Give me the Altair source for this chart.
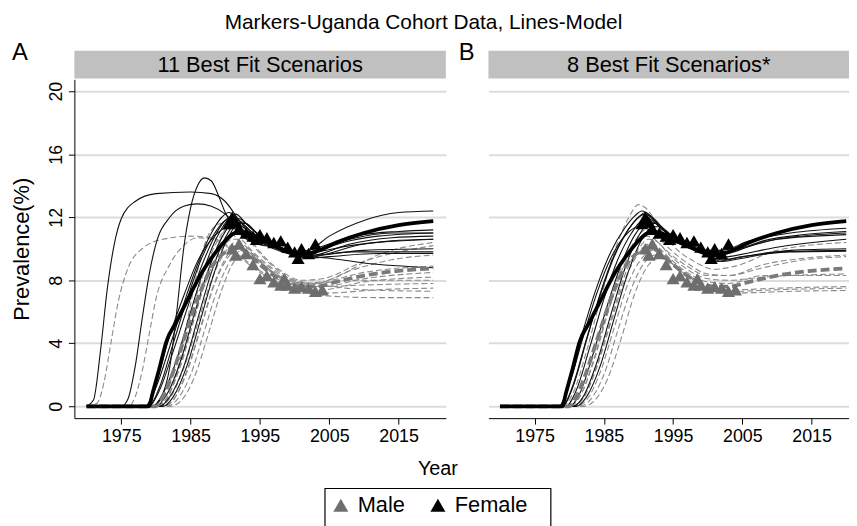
import altair as alt
import pandas as pd

FONT = "Liberation Sans, Arial, sans-serif"

CHART_TITLE = "Markers-Uganda Cohort Data, Lines-Model"
PANEL_A_TITLE = "11 Best Fit Scenarios"
PANEL_B_TITLE = "8 Best Fit Scenarios*"
YEAR_TICKS = [1975, 1985, 1995, 2005, 2015]
PREV_TICKS = [0, 4, 8, 12, 16, 20]
SEXES = ["Male", "Female"]

# ---- Uganda cohort data (markers) ----
FEMALE_YEARS = [1990.5, 1991, 1991.5, 1992, 1993, 1994, 1994.5, 1995, 1996, 1997, 1998, 1999, 2000, 2000.5, 2001, 2002, 2003]
FEMALE_PREV = [11.6, 12.0, 11.7, 11.3, 11.0, 10.8, 10.6, 10.9, 10.7, 10.4, 10.5, 10.1, 9.8, 9.4, 10.0, 9.7, 10.3]
MALE_YEARS = [1991, 1991.5, 1992, 1993, 1994, 1995, 1996, 1997, 1998, 1998.5, 1999, 2000, 2001, 2002, 2003, 2004]
MALE_PREV = [10.0, 9.6, 10.3, 9.7, 9.0, 8.1, 8.3, 7.9, 7.7, 8.1, 7.7, 7.5, 7.6, 7.5, 7.3, 7.4]

# ---- model lines, panel A (11 scenarios) ----
A_F1 = [(1970, 0), (1971, 0.4), (1972, 3.5), (1973, 7.5), (1974, 10.3), (1975, 11.9), (1977, 13.0), (1980, 13.5), (1985, 13.6), (1988, 13.5), (1990, 13.0), (1992, 11.8), (1994, 10.8), (1997, 10.0), (2000, 9.6), (2005, 9.4), (2010, 9.1), (2020, 8.8)]
A_F2 = [(1970, 0), (1975, 0), (1976, 0.5), (1977, 2.5), (1978, 5.5), (1979, 8.3), (1980, 10.3), (1982, 12.0), (1984, 12.7), (1986, 12.85), (1988, 12.7), (1990, 12.2), (1992, 11.3), (1994, 10.6), (1997, 10.1), (2000, 9.7), (2003, 9.8), (2008, 10.2), (2014, 10.5), (2020, 10.6)]
A_F3 = [(1970, 0), (1979.5, 0), (1981, 0.8), (1982, 2.5), (1983, 6.0), (1984, 10.0), (1985, 12.6), (1986, 14.0), (1987, 14.5), (1988, 14.3), (1989, 13.4), (1990, 12.3), (1992, 11.0), (1994, 10.4), (1997, 10.1), (2000, 9.8), (2002, 9.9), (2005, 10.8), (2010, 11.8), (2015, 12.3), (2020, 12.4)]
A_F4 = [(1970, 0), (1978.5, 0), (1980, 1.2), (1982, 3.8), (1984, 6.5), (1986, 9.0), (1988, 11.0), (1989.5, 12.0), (1990.5, 12.3), (1992, 11.8), (1994, 11.0), (1997, 10.3), (2000, 9.8), (2002, 9.9), (2005, 10.3), (2010, 10.9), (2015, 11.1), (2020, 11.2)]
A_F5 = [(1970, 0), (1979, 0), (1980.5, 1.0), (1982.5, 3.5), (1984.5, 6.2), (1986.5, 8.8), (1988.5, 10.8), (1990, 11.8), (1991, 12.1), (1992.5, 11.6), (1995, 10.6), (1998, 10.0), (2001, 9.6), (2003, 9.8), (2007, 10.4), (2012, 10.8), (2020, 11.0)]
A_F6 = [(1970, 0), (1979.5, 0), (1981, 0.8), (1983, 3.0), (1985, 6.0), (1987, 8.8), (1989, 10.9), (1990.5, 11.9), (1991.5, 12.2), (1993, 11.6), (1995, 10.8), (1998, 10.1), (2001, 9.5), (2003, 9.6), (2008, 10.3), (2014, 10.7), (2020, 10.8)]
A_F7 = [(1970, 0), (1980, 0), (1981.5, 0.7), (1983.5, 2.8), (1985.5, 5.8), (1987.5, 8.6), (1989.5, 10.7), (1991, 11.7), (1992, 11.9), (1993.5, 11.4), (1996, 10.5), (1999, 9.9), (2001.5, 9.4), (2004, 9.6), (2010, 10.3), (2020, 10.6)]
A_F8 = [(1970, 0), (1980.5, 0), (1982, 0.6), (1984, 2.5), (1986, 5.5), (1988, 8.5), (1990, 10.7), (1991.5, 11.6), (1992.5, 11.7), (1994, 11.2), (1996, 10.5), (1999, 9.9), (2001.5, 9.5), (2004, 9.6), (2010, 9.9), (2020, 10.0)]
A_F9 = [(1970, 0), (1978.5, 0), (1980, 1.5), (1982, 4.5), (1984, 7.0), (1986, 9.2), (1988, 10.6), (1990, 11.3), (1991.5, 11.4), (1993, 11.0), (1995, 10.5), (1998, 10.0), (2001, 9.6), (2003, 9.6), (2008, 9.8), (2020, 9.8)]
A_F10 = [(1970, 0), (1981, 0), (1982.5, 0.6), (1984.5, 2.6), (1986.5, 5.6), (1988.5, 8.6), (1990.5, 10.8), (1992, 11.6), (1993, 11.6), (1994.5, 11.0), (1997, 10.2), (2000, 9.7), (2002, 9.4), (2005, 9.5), (2012, 9.7), (2020, 9.7)]
A_F11 = [(1970, 0), (1979, 0), (1980.5, 1.2), (1982.5, 4.0), (1984.5, 6.8), (1986.5, 9.3), (1988.5, 11.0), (1990, 11.8), (1991, 11.9), (1992.5, 11.4), (1995, 10.6), (1998, 10.1), (2001, 9.7), (2003, 9.9), (2008, 10.6), (2014, 11.0), (2020, 11.0)]

A_M1 = [(1970, 0), (1971.5, 0.2), (1972.5, 1.5), (1973.5, 4.0), (1974.5, 6.5), (1976, 8.8), (1978, 10.0), (1981, 10.6), (1985, 10.8), (1988, 10.7), (1990, 10.3), (1992, 9.6), (1995, 8.6), (1998, 8.0), (2001, 7.7), (2005, 7.6), (2010, 7.4), (2020, 7.3)]
A_M2 = [(1970, 0), (1976, 0), (1977, 0.6), (1978, 2.2), (1979, 4.5), (1980, 6.8), (1982, 9.0), (1984, 10.2), (1986, 10.7), (1988, 10.6), (1990, 10.2), (1992, 9.5), (1995, 8.5), (1998, 7.8), (2001, 7.3), (2005, 7.0), (2012, 6.9), (2020, 6.9)]
A_M3 = [(1970, 0), (1980.5, 0), (1982, 0.8), (1983.5, 3.0), (1985, 6.5), (1986.5, 9.5), (1988, 11.2), (1989.5, 11.6), (1991, 11.0), (1993, 9.8), (1996, 8.7), (1999, 8.0), (2002, 7.7), (2006, 8.2), (2012, 9.6), (2020, 10.4)]
A_M4 = [(1970, 0), (1980, 0), (1981.5, 0.5), (1983.5, 2.5), (1985.5, 5.5), (1987.5, 8.5), (1989.5, 10.8), (1990.5, 11.6), (1991.5, 11.7), (1993, 11.0), (1995, 9.8), (1998, 8.6), (2001, 8.0), (2004, 8.1), (2010, 9.2), (2020, 10.2)]
A_M5 = [(1970, 0), (1980.5, 0), (1982, 0.5), (1984, 2.4), (1986, 5.2), (1988, 8.0), (1990, 9.8), (1991.5, 10.4), (1992.5, 10.3), (1994.5, 9.4), (1997, 8.5), (2000, 7.9), (2003, 7.8), (2008, 8.6), (2014, 9.3), (2020, 9.6)]
A_M6 = [(1970, 0), (1981, 0), (1982.5, 0.4), (1984.5, 2.2), (1986.5, 5.0), (1988.5, 7.8), (1990.5, 9.5), (1992, 10.0), (1993, 9.9), (1995, 9.1), (1998, 8.2), (2001, 7.6), (2004, 7.6), (2010, 8.1), (2020, 8.5)]
A_M7 = [(1970, 0), (1981.5, 0), (1983, 0.4), (1985, 2.0), (1987, 4.8), (1989, 7.6), (1991, 9.4), (1992.5, 9.9), (1993.5, 9.8), (1995.5, 9.0), (1998, 8.1), (2001, 7.5), (2004, 7.4), (2010, 7.9), (2020, 8.2)]
A_M8 = [(1970, 0), (1982, 0), (1983.5, 0.3), (1985.5, 1.8), (1987.5, 4.5), (1989.5, 7.4), (1991.5, 9.3), (1993, 9.6), (1994, 9.5), (1996, 8.8), (1999, 7.9), (2002, 7.3), (2005, 7.2), (2012, 7.4), (2020, 7.5)]
A_M9 = [(1970, 0), (1979.5, 0), (1981, 0.6), (1983, 2.8), (1985, 5.8), (1987, 8.6), (1989, 10.6), (1990.5, 11.4), (1991.5, 11.5), (1993, 10.8), (1995, 9.7), (1998, 8.5), (2001, 7.8), (2004, 7.9), (2010, 8.5), (2020, 8.9)]
A_M10 = [(1970, 0), (1980, 0), (1981.5, 0.5), (1983.5, 2.6), (1985.5, 5.6), (1987.5, 8.3), (1989.5, 10.0), (1991, 10.6), (1992, 10.6), (1994, 9.8), (1997, 8.7), (2000, 8.0), (2003, 7.8), (2008, 8.0), (2020, 8.0)]
A_M11 = [(1970, 0), (1981, 0), (1982.5, 0.4), (1984.5, 2.3), (1986.5, 5.1), (1988.5, 7.9), (1990.5, 9.7), (1992, 10.2), (1993, 10.1), (1995, 9.3), (1998, 8.3), (2001, 7.7), (2004, 7.6), (2010, 7.7), (2020, 7.8)]

# ---- model lines, panel B (8 scenarios) ----
B_F1 = [(1970, 0), (1978.5, 0), (1980, 1.5), (1982, 4.8), (1984, 7.6), (1986, 9.8), (1988, 11.3), (1989.5, 12.1), (1990.5, 12.4), (1992, 12.0), (1994, 11.1), (1997, 10.4), (2000, 9.9), (2002, 9.9), (2006, 10.5), (2012, 11.0), (2020, 11.3)]
B_F2 = [(1970, 0), (1979, 0), (1980.5, 1.2), (1982.5, 4.2), (1984.5, 7.2), (1986.5, 9.6), (1988.5, 11.2), (1990, 12.0), (1991, 12.2), (1992.5, 11.7), (1995, 10.8), (1998, 10.1), (2001, 9.6), (2003, 9.7), (2008, 10.5), (2014, 10.9), (2020, 11.1)]
B_F3 = [(1970, 0), (1979.5, 0), (1981, 1.0), (1983, 3.8), (1985, 6.8), (1987, 9.3), (1989, 11.0), (1990.5, 11.8), (1991.5, 11.9), (1993, 11.4), (1995.5, 10.5), (1998, 10.0), (2001, 9.4), (2003, 9.5), (2010, 10.1), (2020, 10.6)]
B_F4 = [(1970, 0), (1980, 0), (1981.5, 0.8), (1983.5, 3.4), (1985.5, 6.4), (1987.5, 9.0), (1989.5, 10.9), (1991, 11.6), (1992, 11.7), (1993.5, 11.2), (1996, 10.4), (1999, 9.8), (2001.5, 9.2), (2004, 9.4), (2010, 9.8), (2020, 9.9)]
B_F5 = [(1970, 0), (1980.5, 0), (1982, 0.6), (1984, 2.8), (1986, 5.8), (1988, 8.7), (1990, 10.8), (1991.5, 11.6), (1992.5, 11.6), (1994, 11.0), (1996.5, 10.2), (1999.5, 9.7), (2002, 9.3), (2005, 9.5), (2012, 9.8), (2020, 9.85)]
B_F6 = [(1970, 0), (1978.5, 0), (1980, 1.4), (1982, 4.4), (1984, 7.2), (1986, 9.4), (1988, 10.8), (1990, 11.4), (1991.5, 11.4), (1993, 11.0), (1995.5, 10.4), (1998.5, 9.9), (2001, 9.6), (2004, 9.9), (2010, 10.6), (2020, 10.9)]
B_F7 = [(1970, 0), (1979, 0), (1980.5, 1.3), (1982.5, 4.3), (1984.5, 7.1), (1986.5, 9.5), (1988.5, 11.2), (1990, 12.0), (1991, 12.3), (1992.5, 11.7), (1995, 10.7), (1998, 10.1), (2001, 9.5), (2003, 9.8), (2010, 10.6), (2020, 11.0)]
B_F8 = [(1970, 0), (1981, 0), (1982.5, 0.6), (1984.5, 2.6), (1986.5, 5.6), (1988.5, 8.5), (1990.5, 10.6), (1992, 11.4), (1993, 11.4), (1994.5, 10.9), (1997, 10.2), (2000, 9.6), (2002, 9.2), (2005, 9.4), (2012, 9.9), (2020, 10.0)]

B_M1 = [(1970, 0), (1979, 0), (1980.5, 0.8), (1982.5, 3.5), (1984.5, 6.8), (1986.5, 9.8), (1988.5, 11.9), (1990, 12.8), (1991, 12.6), (1993, 11.4), (1995, 10.2), (1998, 9.2), (2001, 8.7), (2004, 8.9), (2010, 9.9), (2020, 10.4)]
B_M2 = [(1970, 0), (1980, 0), (1981.5, 0.6), (1983.5, 2.8), (1985.5, 5.8), (1987.5, 8.5), (1989.5, 10.2), (1991, 10.8), (1992, 10.7), (1994, 9.9), (1997, 8.9), (2000, 8.3), (2003, 8.3), (2008, 9.0), (2014, 9.4), (2020, 9.6)]
B_M3 = [(1970, 0), (1980.5, 0), (1982, 0.5), (1984, 2.5), (1986, 5.3), (1988, 8.0), (1990, 9.7), (1991.5, 10.3), (1992.5, 10.2), (1994.5, 9.4), (1997, 8.5), (2000, 7.9), (2003, 7.8), (2008, 8.3), (2020, 8.3)]
B_M4 = [(1970, 0), (1981, 0), (1982.5, 0.4), (1984.5, 2.2), (1986.5, 5.0), (1988.5, 7.8), (1990.5, 9.4), (1992, 9.9), (1993, 9.8), (1995, 9.0), (1998, 8.1), (2001, 7.5), (2004, 7.4), (2010, 7.5), (2020, 7.6)]
B_M5 = [(1970, 0), (1981.5, 0), (1983, 0.4), (1985, 2.0), (1987, 4.8), (1989, 7.5), (1991, 9.2), (1992.5, 9.6), (1993.5, 9.5), (1995.5, 8.8), (1998, 8.0), (2001, 7.4), (2004, 7.3), (2010, 7.4), (2020, 7.5)]
B_M6 = [(1970, 0), (1980, 0), (1981.5, 0.6), (1983.5, 2.9), (1985.5, 6.0), (1987.5, 8.8), (1989.5, 10.5), (1991, 11.2), (1992, 11.1), (1994, 10.2), (1997, 9.1), (2000, 8.4), (2003, 8.3), (2008, 8.8), (2014, 9.3), (2020, 9.5)]
B_M7 = [(1970, 0), (1982, 0), (1983.5, 0.3), (1985.5, 1.7), (1987.5, 4.3), (1989.5, 7.2), (1991.5, 9.0), (1993, 9.4), (1994, 9.3), (1996, 8.7), (1999, 7.8), (2002, 7.3), (2005, 7.2), (2012, 7.3), (2020, 7.35)]
B_M8 = [(1970, 0), (1980.5, 0), (1982, 0.5), (1984, 2.6), (1986, 5.5), (1988, 8.3), (1990, 10.0), (1991.5, 10.6), (1992.5, 10.5), (1994.5, 9.6), (1997, 8.7), (2000, 8.1), (2003, 8.0), (2008, 8.2), (2020, 8.4)]

# ---- thick lines (shown in both panels) ----
FEMALE_THICK = [(1970, 0), (1979, 0), (1979.5, 0.8), (1980.5, 2.4), (1981.5, 4.1), (1983, 5.4), (1984.5, 6.7), (1986.5, 8.4), (1988.5, 9.7), (1990, 10.5), (1991.5, 11.0), (1993, 11.0), (1995, 10.6), (1997, 10.2), (1999, 9.8), (2001, 9.6), (2003, 9.8), (2006, 10.4), (2010, 11.0), (2015, 11.5), (2020, 11.75)]
MALE_THICK = [(1970, 0), (1980, 0), (1981, 0.6), (1982.5, 2.2), (1984, 4.2), (1986, 6.8), (1988, 8.8), (1990, 9.8), (1991.5, 10.1), (1993, 9.8), (1995, 9.0), (1997, 8.3), (1999, 7.8), (2001, 7.6), (2003, 7.6), (2006, 7.9), (2010, 8.3), (2015, 8.6), (2020, 8.75)]

A_FEMALE = [A_F1, A_F2, A_F3, A_F4, A_F5, A_F6, A_F7, A_F8, A_F9, A_F10, A_F11]
A_MALE = [A_M1, A_M2, A_M3, A_M4, A_M5, A_M6, A_M7, A_M8, A_M9, A_M10, A_M11]
B_FEMALE = [B_F1, B_F2, B_F3, B_F4, B_F5, B_F6, B_F7, B_F8]
B_MALE = [B_M1, B_M2, B_M3, B_M4, B_M5, B_M6, B_M7, B_M8]


def lines_frame(female, male):
    rows = []
    for i, c in enumerate(female):
        for yr, v in c:
            rows.append({"curve": f"F{i}", "grp": "F", "year": yr, "value": v})
    for i, c in enumerate(male):
        for yr, v in c:
            rows.append({"curve": f"M{i}", "grp": "M", "year": yr, "value": v})
    for yr, v in FEMALE_THICK:
        rows.append({"curve": "FT", "grp": "FT", "year": yr, "value": v})
    for yr, v in MALE_THICK:
        rows.append({"curve": "MT", "grp": "MT", "year": yr, "value": v})
    return pd.DataFrame(rows)


markers = pd.DataFrame(
    [{"sex": "Male", "year": y, "value": v} for y, v in zip(MALE_YEARS, MALE_PREV)]
    + [{"sex": "Female", "year": y, "value": v} for y, v in zip(FEMALE_YEARS, FEMALE_PREV)]
)

Y_DOMAIN = [-0.75, 20.75]
PLOT_H = 342


def panel(df, header, letter, width, xdomain, show_y, extras=()):
    x = alt.X("year:Q", scale=alt.Scale(domain=xdomain, nice=False, zero=False),
              axis=alt.Axis(values=YEAR_TICKS, format="d", grid=False, title=None,
                            labelFontSize=18, tickSize=6, labelPadding=4,
                            domainColor="black", tickColor="black", labelColor="black"))
    if show_y:
        yaxis = alt.Axis(values=PREV_TICKS, grid=True, gridColor="#dcdcdc", gridWidth=2,
                         labelAngle=270, labelFontSize=18, tickSize=6, labelPadding=3,
                         title="Prevalence(%)", titleFontSize=22, titleFontWeight="normal",
                         titlePadding=14, domainColor="black", tickColor="black",
                         labelColor="black", titleColor="black")
    else:
        yaxis = alt.Axis(values=PREV_TICKS, grid=True, gridColor="#dcdcdc", gridWidth=2,
                         labels=False, ticks=False, domain=False, title=None)
    y = alt.Y("value:Q", scale=alt.Scale(domain=Y_DOMAIN, nice=False, zero=False), axis=yaxis)

    base = alt.Chart(df)
    thin_m = base.transform_filter("datum.grp == 'M'").mark_line(
        color="#8a8a8a", strokeWidth=1.1, strokeDash=[6, 3], interpolate="monotone"
    ).encode(x=x, y=y, detail="curve:N")
    thin_f = base.transform_filter("datum.grp == 'F'").mark_line(
        color="#111111", strokeWidth=1.1, interpolate="monotone"
    ).encode(x=x, y=y, detail="curve:N")
    thick_m = base.transform_filter("datum.grp == 'MT'").mark_line(
        color="#7a7a7a", strokeWidth=3.8, strokeDash=[9, 4], interpolate="monotone"
    ).encode(x=x, y=y)
    thick_f = base.transform_filter("datum.grp == 'FT'").mark_line(
        color="#000000", strokeWidth=3.8, interpolate="monotone"
    ).encode(x=x, y=y)

    pts = alt.Chart(markers).mark_point(shape="triangle-up", filled=True, size=175, opacity=1).encode(
        x=x, y=y,
        color=alt.Color("sex:N", scale=alt.Scale(domain=SEXES, range=["#6e6e6e", "#000000"]),
                        legend=alt.Legend(title=None, orient="none", legendX=252, legendY=413,
                                          direction="horizontal", symbolType="triangle-up",
                                          symbolSize=230, labelFontSize=22, labelFont=FONT,
                                          labelColor="black", padding=6,
                                          columnPadding=22, labelOffset=6,
                                          symbolOpacity=1)),
    )

    hdr_df = pd.DataFrame({"label": [header], "letter": [letter]})
    hdr = alt.Chart(hdr_df)
    rect = hdr.mark_rect(color="#c0c0c0").encode(
        x=alt.value(0), x2=alt.value(width), y=alt.value(-29), y2=alt.value(-1))
    htxt = hdr.mark_text(fontSize=22, font=FONT, color="black", baseline="middle").encode(
        x=alt.value(width / 2), y=alt.value(-14), text="label:N")
    ltxt = hdr.mark_text(fontSize=24, font=FONT, color="black", baseline="middle").encode(
        x=alt.value(-55 if show_y else -22), y=alt.value(-27), text="letter:N")

    layers = [thin_m, thin_f, thick_m, thick_f, pts, rect, htxt, ltxt] + list(extras)
    return alt.layer(*layers).properties(width=width, height=PLOT_H)


year_df = pd.DataFrame({"t": ["Year"]})
year_txt = alt.Chart(year_df).mark_text(fontSize=20, font=FONT, color="black", baseline="middle").encode(
    x=alt.value(367), y=alt.value(393), text="t:N")
legend_box = alt.Chart(year_df).mark_rect(fillOpacity=0, stroke="black", strokeWidth=1.2).encode(
    x=alt.value(253), x2=alt.value(481), y=alt.value(413), y2=alt.value(470))

pa = panel(lines_frame(A_FEMALE, A_MALE), PANEL_A_TITLE, "A", 375, [1968.24, 2021.81], True,
           (year_txt, legend_box))
pb = panel(lines_frame(B_FEMALE, B_MALE), PANEL_B_TITLE, "B", 364, [1968.33, 2020.4], False)

chart = alt.hconcat(pa, pb, spacing=43, bounds="flush").properties(
    title=alt.TitleParams(CHART_TITLE, fontSize=21, font=FONT, fontWeight="normal",
                          anchor="middle", dx=-9, offset=8, color="black"),
    autosize=alt.AutoSizeParams(type="none"),
    padding={"left": 67, "top": 68, "right": 782, "bottom": 442},
).configure_view(strokeWidth=0).configure_axis(labelFont=FONT, titleFont=FONT)

chart.save("out.html", embed_options={"renderer": "svg", "actions": False})
